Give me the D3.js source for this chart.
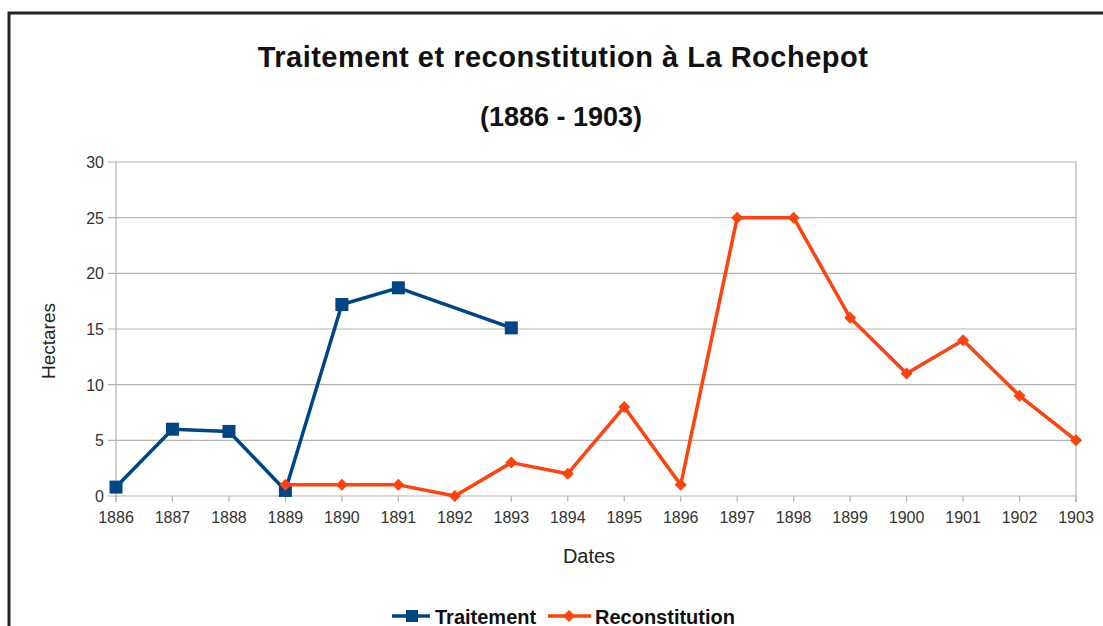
<!DOCTYPE html>
<html>
<head>
<meta charset="utf-8">
<title>Traitement et reconstitution</title>
<script src="https://cdn.jsdelivr.net/npm/d3@7"></script>
<style>
  body { margin: 0; background: #fff; }
  svg { display: block; font-family: "Liberation Sans", Arial, sans-serif; }
</style>
</head>
<body>
<svg id="chart" width="1103" height="626"></svg>
<script>
// data
const years = [1886, 1887, 1888, 1889, 1890, 1891, 1892, 1893, 1894, 1895,
               1896, 1897, 1898, 1899, 1900, 1901, 1902, 1903];
const traitement = [
  [1886, 0.8], [1887, 6], [1888, 5.8], [1889, 0.5],
  [1890, 17.2], [1891, 18.7], [1893, 15.1]
];
const reconstitution = [
  [1889, 1], [1890, 1], [1891, 1], [1892, 0], [1893, 3], [1894, 2],
  [1895, 8], [1896, 1], [1897, 25], [1898, 25], [1899, 16], [1900, 11],
  [1901, 14], [1902, 9], [1903, 5]
];
const yTicks = [0, 5, 10, 15, 20, 25, 30];

const svg = d3.select("#chart");
const blue = "#004586", red = "#ff420e";

// outer frame
svg.append("rect")
  .attr("x", 9).attr("y", 13)
  .attr("width", 1120).attr("height", 640)
  .attr("fill", "none").attr("stroke", "#222").attr("stroke-width", 3);

const pLeft = 116, pRight = 1076, pTop = 162, pBottom = 496;

const x = d3.scaleLinear().domain([1886, 1903]).range([pLeft, pRight]);
const y = d3.scaleLinear().domain([0, 30]).range([pBottom, pTop]);

// grid
svg.append("g").selectAll("line")
  .data(yTicks)
  .enter().append("line")
  .attr("x1", pLeft - 8).attr("x2", pRight)
  .attr("y1", d => y(d)).attr("y2", d => y(d))
  .attr("stroke", "#b3b3b3").attr("stroke-width", 1.2);

// vertical sides
svg.append("line").attr("x1", pLeft).attr("x2", pLeft).attr("y1", pTop).attr("y2", pBottom + 6)
  .attr("stroke", "#b3b3b3").attr("stroke-width", 1.2);
svg.append("line").attr("x1", pRight).attr("x2", pRight).attr("y1", pTop).attr("y2", pBottom + 6)
  .attr("stroke", "#b3b3b3").attr("stroke-width", 1.2);

// x ticks
svg.append("g").selectAll("line")
  .data(years)
  .enter().append("line")
  .attr("x1", d => x(d)).attr("x2", d => x(d))
  .attr("y1", pBottom).attr("y2", pBottom + 6)
  .attr("stroke", "#b3b3b3").attr("stroke-width", 1.2);

svg.append("g").selectAll("text")
  .data(years)
  .enter().append("text")
  .attr("x", d => x(d)).attr("y", pBottom + 27)
  .attr("text-anchor", "middle")
  .attr("font-size", "16px").attr("fill", "#333")
  .text(d => d);

svg.append("g").selectAll("text")
  .data(yTicks)
  .enter().append("text")
  .attr("x", pLeft - 12).attr("y", d => y(d) + 6)
  .attr("text-anchor", "end")
  .attr("font-size", "16px").attr("fill", "#333")
  .text(d => d);

// titles
svg.append("text").attr("x", 563).attr("y", 67)
  .attr("text-anchor", "middle").attr("font-size", "29px").attr("font-weight", "bold")
  .attr("letter-spacing", "0.5px")
  .attr("fill", "#111").text("Traitement et reconstitution à La Rochepot");
svg.append("text").attr("x", 561).attr("y", 126)
  .attr("text-anchor", "middle").attr("font-size", "27px").attr("font-weight", "bold")
  .attr("fill", "#111").text("(1886 - 1903)");

svg.append("text").attr("x", 589).attr("y", 563)
  .attr("text-anchor", "middle").attr("font-size", "20px").attr("fill", "#222")
  .text("Dates");
svg.append("text")
  .attr("transform", "translate(55,341) rotate(-90)")
  .attr("text-anchor", "middle").attr("font-size", "19px").attr("fill", "#222")
  .text("Hectares");

// lines
const line = d3.line().x(d => x(d[0])).y(d => y(d[1]));

svg.append("path").datum(traitement)
  .attr("d", line).attr("fill", "none")
  .attr("stroke", blue).attr("stroke-width", 3.5).attr("stroke-linejoin", "round");

svg.append("g").selectAll("rect")
  .data(traitement)
  .enter().append("rect")
  .attr("x", d => x(d[0]) - 6.5).attr("y", d => y(d[1]) - 6.5)
  .attr("width", 13).attr("height", 13)
  .attr("fill", blue);

svg.append("path").datum(reconstitution)
  .attr("d", line).attr("fill", "none")
  .attr("stroke", red).attr("stroke-width", 3.5).attr("stroke-linejoin", "round");

const diamond = d3.symbol().type(d3.symbolSquare).size(72);
svg.append("g").selectAll("path")
  .data(reconstitution)
  .enter().append("path")
  .attr("d", diamond)
  .attr("transform", d => "translate(" + x(d[0]) + "," + y(d[1]) + ") rotate(45)")
  .attr("fill", red);

// legend
const legend = [
  { name: "Traitement", color: blue, x: 392, tx: 43, square: true },
  { name: "Reconstitution", color: red, x: 548, tx: 47, square: false }
];
const lg = svg.append("g").selectAll("g")
  .data(legend).enter().append("g")
  .attr("transform", d => "translate(" + d.x + ",616)");
lg.append("line").attr("x1", 0).attr("x2", d => d.square ? 38 : 43).attr("y1", 0).attr("y2", 0)
  .attr("stroke", d => d.color).attr("stroke-width", 3.5);
lg.filter(d => d.square).append("rect")
  .attr("x", 14).attr("y", -6).attr("width", 12).attr("height", 12)
  .attr("fill", d => d.color);
lg.filter(d => !d.square).append("path")
  .attr("d", diamond).attr("transform", "translate(21,0) rotate(45)")
  .attr("fill", d => d.color);
lg.append("text").attr("x", d => d.tx).attr("y", 8)
  .attr("font-size", "20px").attr("font-weight", "bold").attr("fill", "#111")
  .text(d => d.name);
</script>
</body>
</html>
